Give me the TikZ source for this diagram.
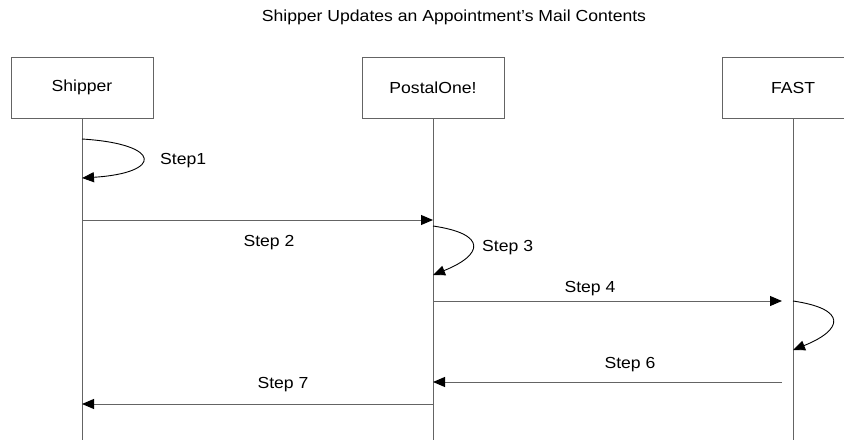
\documentclass[tikz,border=0pt]{standalone}
\usepackage{fontspec}
\setmainfont{Liberation Sans}[FakeStretch=1.1]
\definecolor{lnGray}{RGB}{100,100,100}
\usetikzlibrary{arrows.meta,positioning,calc}
\tikzset{
  actor/.style={draw=lnGray, line width=1pt, minimum width=142pt, minimum height=61pt, inner sep=0pt, font=\fontsize{16}{19}\selectfont},
  life/.style={draw=lnGray, line width=1pt},
  msg/.style={draw=lnGray, line width=1pt, -{Triangle[length=12pt,width=10pt,color=black]}},
  selfmsg/.style={msg, draw=black, line width=0.9pt},
  lbl/.style={font=\fontsize{16}{19}\selectfont, anchor=base, inner sep=0pt}
}

\begin{document}
\begin{tikzpicture}[x=1pt,y=-1pt]
  \useasboundingbox (0,0) rectangle (844,440);

  %--- Title ---
  \node[lbl] (title) at (454,21) {Shipper Updates an Appointment's Mail Contents};

  %--- Actors and lifelines ---
  \node[actor] (shipper) at (82,87.5) {Shipper};
  \node[actor] (postal) at (433,87.5) {PostalOne!};
  \node[actor] (fast) at (793,87.5) {FAST};

  \coordinate (bottom) at (0,440);
  \foreach \n in {shipper,postal,fast}
    \draw[life] (\n.south) -- (\n.south |- bottom);

  %--- Message rows ---
  \coordinate (s1a) at (0,139);
  \coordinate (s1b) at (0,178);
  \coordinate (m2) at (0,220);
  \coordinate (s3a) at (0,226);
  \coordinate (s3b) at (0,275);
  \coordinate (m4) at (0,301);
  \coordinate (s5b) at (0,350);
  \coordinate (m6) at (0,382);
  \coordinate (m7) at (0,404);

  % Step 1
  \draw[selfmsg] (shipper.south |- s1a) .. controls +(81,5) and +(81,-5) .. (shipper.south |- s1b);
  \node[lbl, anchor=base west] (l1) at (160,164) {Step1};

  % Step 2
  \draw[msg] (shipper.south |- m2) -- (postal.south |- m2);
  \node[lbl] (l2) at (269,246) {Step 2};

  % Step 3
  \draw[selfmsg] (postal.south |- s3a) .. controls +(55,8) and +(50,-20) .. (postal.south |- s3b);
  \node[lbl, anchor=base west] (l3) at (482,251) {Step 3};

  % Step 4
  \draw[msg, shorten >=11pt] (postal.south |- m4) -- (fast.south |- m4);
  \node[lbl] (l4) at (590,292) {Step 4};

  % Step 5
  \draw[selfmsg] (fast.south |- m4) .. controls +(55,8) and +(50,-20) .. (fast.south |- s5b);

  % Step 6
  \draw[msg, shorten <=11pt] (fast.south |- m6) -- (postal.south |- m6);
  \node[lbl] (l6) at (630,368) {Step 6};

  % Step 7
  \draw[msg] (postal.south |- m7) -- (shipper.south |- m7);
  \node[lbl] (l7) at (283,388) {Step 7};
\end{tikzpicture}
\end{document}
